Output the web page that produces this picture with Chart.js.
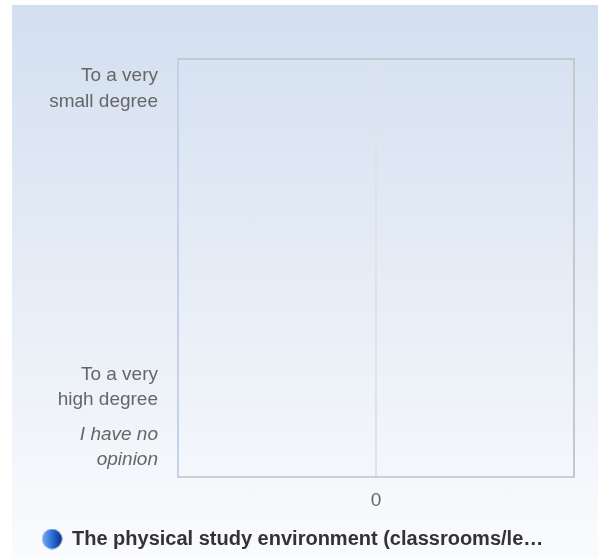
<!DOCTYPE html>
<html>
<head>
<meta charset="utf-8">
<script src="https://cdn.jsdelivr.net/npm/chart.js@4.4.1/dist/chart.umd.min.js"></script>
<style>
  html, body { margin: 0; padding: 0; background: #fff; }
  #wrap {
    position: absolute; left: 12px; top: 5px; width: 586px; height: 554px;
    background: linear-gradient(to bottom, #d3dff0 0%, #fafbfd 100%);
  }
</style>
</head>
<body>
<div id="wrap"><canvas id="myChart" width="586" height="554"></canvas></div>
<script>
// data
var categories = [
  ["To a very", "small degree"],
  "", "", "", "",
  ["To a very", "high degree"],
  ["I have no", "opinion"],
];
var seriesName = "The physical study environment (classrooms/le…";
var seriesValues = [0, 0, 0, 0, 0, 0, 0];
var xTicks = [0];

var FONT = "'Liberation Sans', Arial, sans-serif";

// blue ball used as the legend marker
var ball = document.createElement("canvas");
ball.width = 21; ball.height = 21;
var bctx = ball.getContext("2d");
var grad = bctx.createLinearGradient(0, 0, 21, 0);
grad.addColorStop(0, "#7fb2f2");
grad.addColorStop(0.5, "#2c6fd8");
grad.addColorStop(1, "#0a2a86");
bctx.fillStyle = grad;
bctx.beginPath();
bctx.arc(10.5, 10.5, 10, 0, Math.PI * 2);
bctx.fill();

// top and right edges of the plot box
var frame = {
  id: "frame",
  afterDraw: function (chart) {
    var a = chart.chartArea, c = chart.ctx;
    c.save();
    c.strokeStyle = "#c5c8cd";
    c.lineWidth = 2;
    c.beginPath();
    c.moveTo(a.left, a.top);
    c.lineTo(a.right, a.top);
    c.lineTo(a.right, a.bottom);
    c.stroke();
    c.restore();
  },
};

var ctx = document.getElementById("myChart").getContext("2d");
var myChart = new Chart(ctx, {
  type: "bar",
  data: {
    labels: categories,
    datasets: [
      {
        label: seriesName,
        data: seriesValues,
        backgroundColor: "#2c6fd8",
        pointStyle: ball,
      },
    ],
  },
  options: {
    indexAxis: "y",
    responsive: false,
    animation: false,
    layout: { padding: { top: 54, right: 24, left: 28, bottom: 0 } },
    scales: {
      x: {
        min: -1,
        max: 1,
        afterBuildTicks: function (s) {
          s.ticks = xTicks.map(function (v) { return { value: v }; });
        },
        afterFit: function (s) { s.height = 50; },
        grid: { color: "#dfe3e9", lineWidth: 2, drawTicks: false },
        border: { color: "#cfd0d3", width: 2 },
        ticks: { color: "#666", padding: 12, font: { family: FONT, size: 19 } },
      },
      y: {
        afterFit: function (s) { s.width = 138; },
        grid: { display: false, drawTicks: false },
        border: { color: "#c4d1e8", width: 2 },
        ticks: {
          color: "#666",
          padding: 20,
          autoSkip: false,
          font: function (c) {
            return {
              family: FONT,
              size: 19,
              lineHeight: 1.35,
              style: c.index === 6 ? "italic" : "normal",
            };
          },
        },
      },
    },
    plugins: {
      tooltip: { enabled: false },
      legend: {
        position: "bottom",
        align: "start",
        labels: {
          usePointStyle: true,
          color: "#333",
          padding: 2,
          font: { family: FONT, size: 20, weight: "bold" },
        },
      },
    },
  },
  plugins: [frame],
});
</script>
</body>
</html>
